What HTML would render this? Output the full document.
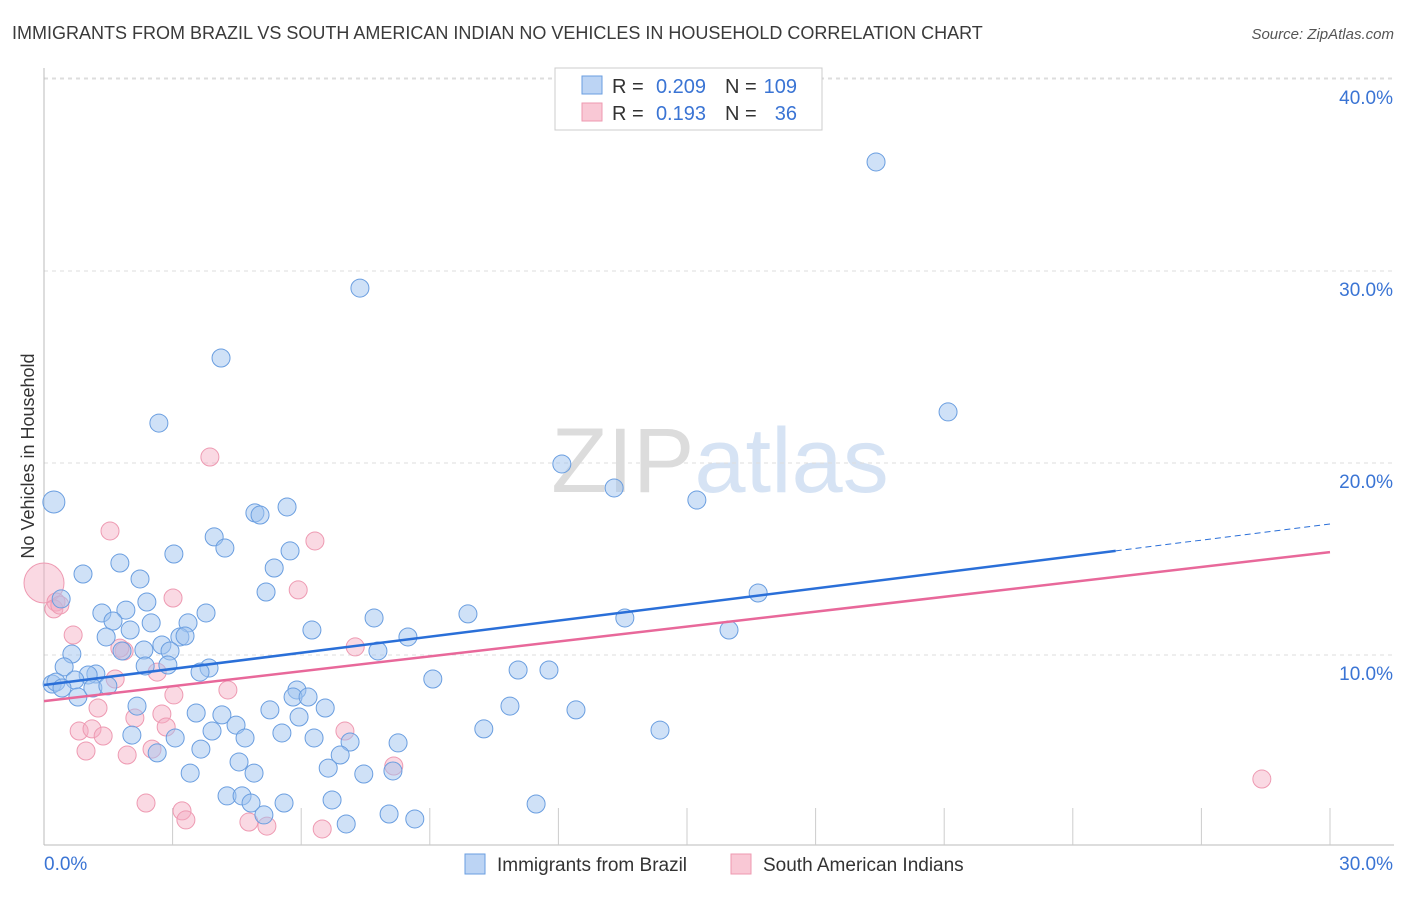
<!DOCTYPE html>
<html><head><meta charset="utf-8"><style>
body{margin:0;background:#fff;font-family:"Liberation Sans",sans-serif;}
svg text{font-family:"Liberation Sans",sans-serif;}
</style></head><body>
<svg id="chart" width="1406" height="892" viewBox="0 0 1406 892">
<text x="12" y="39" font-size="18" fill="#3a3a3a">IMMIGRANTS FROM BRAZIL VS SOUTH AMERICAN INDIAN NO VEHICLES IN HOUSEHOLD CORRELATION CHART</text>
<text x="1394" y="39" font-size="15" fill="#555" text-anchor="end" font-style="italic">Source: ZipAtlas.com</text>
<text x="720" y="492" font-size="92" fill="#e4e4e4" text-anchor="middle" font-family="Liberation Serif"><tspan fill="#dcdcdc">ZIP</tspan><tspan fill="#d6e3f4" font-family="Liberation Sans">atlas</tspan></text>
<g id="grid"></g>
<g id="axes"></g>
<g id="marks"></g>
<text transform="translate(34,456) rotate(-90)" font-size="18" fill="#333" text-anchor="middle">No Vehicles in Household</text>
<g>
<rect x="555" y="68" width="267" height="62" fill="#fff" stroke="#ccc"/>
<rect x="582" y="76" width="20" height="18" fill="#bcd4f4" stroke="#6a9ee0"/>
<rect x="582" y="103" width="20" height="18" fill="#f9c8d5" stroke="#ee99b0"/>
<text x="612" y="93" font-size="20" fill="#333">R =</text>
<text x="706" y="93" font-size="20" fill="#3a74d4" text-anchor="end">0.209</text>
<text x="725" y="93" font-size="20" fill="#333">N =</text>
<text x="797" y="93" font-size="20" fill="#3a74d4" text-anchor="end">109</text>
<text x="612" y="120" font-size="20" fill="#333">R =</text>
<text x="706" y="120" font-size="20" fill="#3a74d4" text-anchor="end">0.193</text>
<text x="725" y="120" font-size="20" fill="#333">N =</text>
<text x="797" y="120" font-size="20" fill="#3a74d4" text-anchor="end">36</text>
</g>
<g>
<rect x="465" y="854" width="20" height="20" fill="#bcd4f4" stroke="#6a9ee0"/>
<text x="497" y="871" font-size="19" fill="#333">Immigrants from Brazil</text>
<rect x="731" y="854" width="20" height="20" fill="#f9c8d5" stroke="#ee99b0"/>
<text x="763" y="871" font-size="19" fill="#333">South American Indians</text>
</g>
</svg>
<script>
const xTicks=[0,30];
const yTicks=[10,20,30,40];
const blueX=[0.23,19.41,7.37,4.13,2.68,21.09,12.08,13.30,15.23,4.92,5.04,5.67,3.97,4.22,5.74,3.03,1.77,5.37,0.91,2.24,5.18,0.40,2.40,1.35,1.91,1.61,2.50,3.36,3.78,7.70,9.89,13.55,16.66,6.25,2.01,1.45,3.17,3.29,8.49,15.98,2.75,2.94,2.33,1.82,7.79,0.65,0.47,3.85,2.89,2.36,11.06,11.78,9.07,1.21,1.03,0.72,0.19,0.28,0.42,1.14,1.49,3.64,0.79,5.90,5.81,6.16,2.17,6.56,3.55,5.27,4.15,5.95,10.87,12.41,4.48,3.92,10.26,14.37,2.05,3.06,4.69,5.55,6.30,7.14,8.26,3.66,2.64,6.91,3.41,4.55,4.90,6.63,7.46,8.14,4.27,4.62,4.83,5.60,6.72,11.48,5.13,8.05,8.65,7.05];
const blueY=[17.97,35.68,29.11,25.47,22.08,22.66,19.95,18.70,18.07,17.40,17.29,17.71,16.15,15.57,15.42,15.26,14.79,14.53,14.22,13.96,13.28,12.92,12.76,12.19,12.34,11.77,11.67,11.67,12.19,11.93,12.14,11.93,13.23,11.30,11.30,10.94,10.94,10.99,10.94,11.30,10.52,10.21,10.26,10.21,10.21,10.05,9.38,9.32,9.48,9.43,9.22,9.22,8.75,9.01,8.96,8.70,8.49,8.59,8.28,8.28,8.39,9.11,7.81,8.18,7.81,7.81,7.34,7.24,6.98,7.14,6.88,6.77,7.34,7.14,6.35,6.04,6.15,6.09,5.83,5.68,5.68,5.94,5.68,5.47,5.42,5.10,4.90,4.79,3.85,4.43,3.85,4.11,3.80,3.96,2.66,2.66,2.29,2.29,2.45,2.24,1.67,1.72,1.46,1.20];
const pinkX=[0,0.28,0.23,0.37,1.54,3.87,6.32,5.93,3.01,0.68,7.26,1.87,2.64,1.66,3.03,4.29,1.26,2.75,2.12,0.82,1.12,1.38,0.98,1.94,2.52,7.02,8.16,28.41,2.38,3.22,3.31,4.78,5.20,6.49,2.85,1.77];
const pinkY=[13.75,12.76,12.40,12.60,16.46,20.31,15.94,13.39,12.97,11.04,10.42,10.21,9.11,8.75,7.92,8.18,7.24,6.93,6.72,6.04,6.15,5.78,5.00,4.79,5.10,6.04,4.22,3.54,2.29,1.88,1.41,1.30,1.09,0.94,6.25,10.36];
const blueTrend=[8.44,16.82];
const pinkTrend=[7.6,15.36];
const NS='http://www.w3.org/2000/svg';
const X=v=>44+v/30*1286;
const Y=v=>847-v*19.2;
function mk(tag,attrs,parent){const e=document.createElementNS(NS,tag);for(const k in attrs)e.setAttribute(k,attrs[k]);document.getElementById(parent).appendChild(e);return e;}
mk('line',{x1:44,x2:1394,y1:78,y2:78,stroke:'#ddd','stroke-dasharray':'4,4'},'grid');
yTicks.forEach(t=>{
 const l=mk('line',{x1:44,x2:1394,y1:Y(t),y2:Y(t),stroke:'#ddd','stroke-dasharray':'4,4'},'grid');
 
 
 const tx=mk('text',{x:1393,y:Y(t)+25,'font-size':19,fill:'#3a74d4','text-anchor':'end'},'grid');
 tx.textContent=t.toFixed(1)+'%';
 
 
});
const ax=mk('line',{x1:44,x2:44,y1:68,y2:845,stroke:'#bbb'},'axes');


const bx=mk('line',{x1:44,x2:1394,y1:845,y2:845,stroke:'#bbb'},'axes');


for(let i=1;i<=10;i++){const v=i*3;mk('line',{x1:X(v),x2:X(v),y1:808,y2:845,stroke:'#ccc'},'axes');}
xTicks.forEach((t,i)=>{
 const tx=mk('text',{x:i==0?44:1393,y:870,'font-size':19,fill:'#3a74d4','text-anchor':i==0?'start':'end'},'axes');
 tx.textContent=t.toFixed(1)+'%';
 
 
});
pinkX.forEach((x,i)=>{
 const c=mk('circle',{cx:X(x),cy:Y(pinkY[i]),r:i==0?20:9,fill:'rgba(245,170,192,0.45)',stroke:'#ee9ab2','stroke-width':1},'marks');
 
 
});
blueX.forEach((x,i)=>{
 const c=mk('circle',{cx:X(x),cy:Y(blueY[i]),r:i==0?11:9,fill:'rgba(160,196,240,0.5)',stroke:'#6a9ee0','stroke-width':1},'marks');
 
 
});
const bAt=v=>blueTrend[0]+(blueTrend[1]-blueTrend[0])*v/30;
const pAt=v=>pinkTrend[0]+(pinkTrend[1]-pinkTrend[0])*v/30;
const bl=mk('line',{x1:X(0),y1:Y(bAt(0)),x2:X(25),y2:Y(bAt(25)),stroke:'#2a6fd8','stroke-width':2.5},'marks');


const bd=mk('line',{x1:X(25),y1:Y(bAt(25)),x2:X(30),y2:Y(bAt(30)),stroke:'#2a6fd8','stroke-width':1,'stroke-dasharray':'6,4'},'marks');


const pl=mk('line',{x1:X(0),y1:Y(pAt(0)),x2:X(30),y2:Y(pAt(30)),stroke:'#e8689a','stroke-width':2.5},'marks');


</script>
</body></html>
